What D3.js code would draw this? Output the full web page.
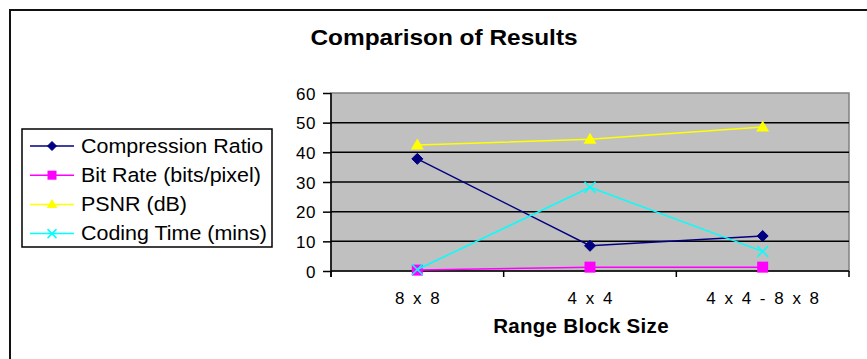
<!DOCTYPE html>
<html><head><meta charset="utf-8">
<script src="https://cdn.jsdelivr.net/npm/d3@7"></script>
<style>html,body{margin:0;padding:0;background:#fff;}svg{display:block;}</style>
</head><body>
<svg id="c" width="867" height="359"></svg>
<script>
const categories = ["8 x 8", "4 x 4", "4 x 4 - 8 x 8"];
const compressionRatio = [37.8, 8.5, 11.8];
const bitRate = [0.3, 1.3, 1.3];
const psnr = [42.5, 44.4, 48.5];
const codingTime = [0.5, 28.2, 6.6];
const yTicks = [0, 10, 20, 30, 40, 50, 60];
const seriesNames = ["Compression Ratio", "Bit Rate (bits/pixel)", "PSNR (dB)", "Coding Time (mins)"];

const series = [
  {name: seriesNames[0], values: compressionRatio, color: "#000080", marker: "diamond"},
  {name: seriesNames[1], values: bitRate, color: "#FF00FF", marker: "square"},
  {name: seriesNames[2], values: psnr, color: "#FFFF00", marker: "triangle"},
  {name: seriesNames[3], values: codingTime, color: "#00FFFF", marker: "x"}
];

const svg = d3.select("#c");
const font = "Arial, 'Liberation Sans', sans-serif";

// outer frame
svg.append("path").attr("d", "M10,370 L10,10 L880,10")
  .attr("fill", "none").attr("stroke", "#111").attr("stroke-width", 2);

const L = 331, R = 849, T = 93, B = 271;
const x = d3.scaleBand().domain(categories).range([L, R]);
const y = d3.scaleLinear().domain([0, 60]).range([B, T]);

// plot area
svg.append("rect").attr("x", L).attr("y", T).attr("width", R - L).attr("height", B - T)
  .attr("fill", "#C0C0C0").attr("stroke", "#808080").attr("stroke-width", 1.5);

// gridlines
svg.append("g").selectAll("line").data(yTicks.filter(d => d > 0 && d < 60)).join("line")
  .attr("x1", L).attr("x2", R).attr("y1", d => y(d)).attr("y2", d => y(d))
  .attr("stroke", "#000").attr("stroke-width", 1.5);

// y axis
const ya = svg.append("g").attr("transform", `translate(${L},0)`)
  .call(d3.axisLeft(y).tickValues(yTicks).tickSize(8).tickPadding(7));
ya.select(".domain").attr("stroke", "#000").attr("stroke-width", 1.5).attr("d", `M0,${T}V${B + 6}`);
ya.selectAll(".tick line").attr("stroke", "#000").attr("stroke-width", 1.5);
ya.selectAll("text").attr("font-family", font).attr("font-size", 17).attr("fill", "#000")
  .attr("letter-spacing", "0.6px").attr("dy", "0.36em");

// x axis
const xa = svg.append("g").attr("transform", `translate(0,${B})`)
  .call(d3.axisBottom(x).tickSize(0).tickPadding(0));
xa.select(".domain").attr("stroke", "#000").attr("stroke-width", 1.5).attr("d", `M${L},0H${R}`);
xa.selectAll("text").attr("font-family", font).attr("font-size", 17).attr("fill", "#000")
  .attr("letter-spacing", "2px").attr("dy", null).attr("y", 304 - B).attr("dx", "1px");
// band boundary ticks
xa.append("g").selectAll("line").data(d3.range(categories.length + 1)).join("line")
  .attr("x1", i => L + i * x.step()).attr("x2", i => L + i * x.step())
  .attr("y1", 0).attr("y2", 6).attr("stroke", "#000").attr("stroke-width", 1.5);

const cx = c => x(c) + x.bandwidth() / 2;

function drawMarker(g, type, color, px, py, s) {
  if (type === "diamond") {
    g.append("path").attr("d", `M${px},${py - s}L${px + s},${py}L${px},${py + s}L${px - s},${py}Z`)
      .attr("fill", color).attr("stroke", color);
  } else if (type === "square") {
    g.append("rect").attr("x", px - s).attr("y", py - s).attr("width", 2 * s).attr("height", 2 * s)
      .attr("fill", color);
  } else if (type === "triangle") {
    g.append("path").attr("d", `M${px},${py - s - 1}L${px + s + 1},${py + s - 1}L${px - s - 1},${py + s - 1}Z`)
      .attr("fill", color);
  } else if (type === "x") {
    g.append("path").attr("d", `M${px - s},${py - s}L${px + s},${py + s}M${px - s},${py + s}L${px + s},${py - s}`)
      .attr("stroke", color).attr("stroke-width", 1.5);
  }
}

const line = d3.line().x((d, i) => cx(categories[i])).y(d => y(d));
series.forEach(s => {
  const g = svg.append("g");
  g.append("path").datum(s.values).attr("d", line).attr("fill", "none")
    .attr("stroke", s.color).attr("stroke-width", 1.5);
  s.values.forEach((v, i) => drawMarker(g, s.marker, s.color, cx(categories[i]), y(v), 5.5));
});

// title
svg.append("text").attr("transform", "translate(444,45) scale(1.11,1)").attr("text-anchor", "middle")
  .attr("font-family", font).attr("font-weight", "bold").attr("font-size", 22)
  .text("Comparison of Results");

// axis title
svg.append("text").attr("x", 581).attr("y", 333).attr("text-anchor", "middle")
  .attr("font-family", font).attr("font-weight", "bold").attr("font-size", 20.5)
  .attr("letter-spacing", "0.3px").text("Range Block Size");

// legend
const lg = svg.append("g");
lg.append("rect").attr("x", 22).attr("y", 129).attr("width", 250).attr("height", 118)
  .attr("fill", "#fff").attr("stroke", "#000").attr("stroke-width", 1.5);
series.forEach((s, i) => {
  const ly = 146 + i * 29.2;
  lg.append("line").attr("x1", 30).attr("x2", 74).attr("y1", ly).attr("y2", ly)
    .attr("stroke", s.color).attr("stroke-width", 1.5);
  drawMarker(lg, s.marker, s.color, 52, ly, 4.5);
  lg.append("text").attr("transform", `translate(81,${ly + 6.8}) scale(1.1,1)`)
    .attr("font-family", font).attr("font-size", 19.5).text(s.name);
});
</script>
</body></html>
